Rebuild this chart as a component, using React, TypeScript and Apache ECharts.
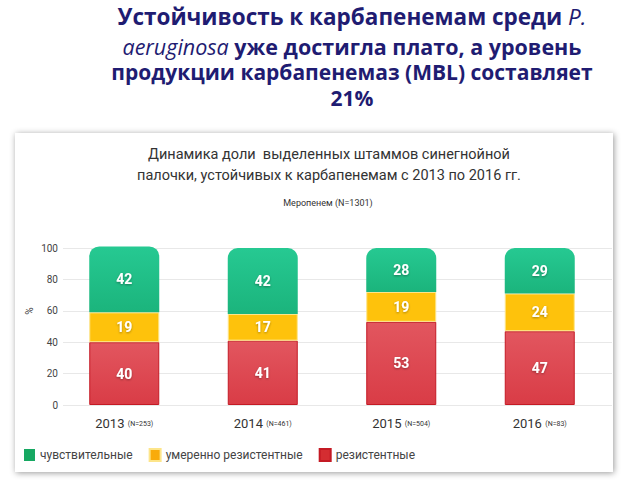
import React, { useEffect, useRef } from "react";
import * as echarts from "echarts";

const categories = ["2013", "2014", "2015", "2016"];
const sampleSizes = ["N=253", "N=461", "N=504", "N=83"];
const resistant = [40, 41, 53, 47];
const intermediate = [19, 17, 19, 24];
const sensitive = [42, 42, 28, 29];
const yTicks = [0, 20, 40, 60, 80, 100];
const seriesNames = ["чувствительные", "умеренно резистентные", "резистентные"];
const headingLines = [
  "Устойчивость к карбапенемам среди {i|P.}",
  "{i|aeruginosa} уже достигла плато, а уровень",
  "продукции карбапенемаз (MBL) составляет",
  "21%",
];

export default function App() {
  const ref = useRef<HTMLDivElement>(null);
  useEffect(() => {
    const chart = echarts.init(ref.current!, null, { renderer: "svg" });
    const labelStyle = {
      show: true,
      position: "inside",
      color: "#ffffff",
      fontFamily: "Roboto",
      fontWeight: "bold",
      fontSize: 14,
      textShadowColor: "rgba(0,0,0,0.35)",
      textShadowBlur: 2,
      textShadowOffsetY: 1,
    };
    const yMin = yTicks[0];
    const yMax = yTicks[yTicks.length - 1];
    const headingSizes = [22.5, 21.5, 21, 21];
    const headingY = [16, 46, 72, 98];
    const heading = headingLines.map((t, k) => ({
      type: "text",
      x: 352,
      y: headingY[k],
      style: {
        text: t,
        fill: "#1f1c72",
        fontFamily: "Open Sans",
        fontWeight: "bold",
        fontSize: headingSizes[k],
        lineHeight: 20,
        align: "center",
        verticalAlign: "middle",
        rich: {
          i: {
            fontFamily: "Open Sans",
            fontStyle: "italic",
            fontWeight: "normal",
            fontSize: headingSizes[k],
            lineHeight: 20,
            fill: "#1f1c72",
            color: "#1f1c72",
          },
        },
      },
    }));
    chart.setOption({
      animation: false,
      backgroundColor: "#ffffff",
      title: [
        {
          text: "Динамика доли  выделенных штаммов синегнойной\nпалочки, устойчивых к карбапенемам с 2013 по 2016 гг.",
          left: 324,
          top: 139,
          textAlign: "center",
          textStyle: {
            fontFamily: "Roboto",
            fontWeight: "normal",
            fontSize: 14.5,
            color: "#333333",
            lineHeight: 21,
          },
        },
        {
          text: "Меропенем (N=1301)",
          left: 323,
          top: 193,
          textAlign: "center",
          textStyle: {
            fontFamily: "Roboto",
            fontWeight: "normal",
            fontSize: 9,
            color: "#333333",
          },
        },
      ],
      graphic: [
        {
          type: "rect",
          z: -10,
          shape: { x: 15, y: 133, width: 598, height: 339 },
          style: {
            fill: "#ffffff",
            shadowBlur: 6,
            shadowColor: "rgba(0,0,0,0.4)",
            shadowOffsetX: 1,
            shadowOffsetY: 1,
          },
        },
        {
          type: "text",
          x: 29,
          y: 311,
          rotation: Math.PI / 2,
          style: {
            text: "%",
            fill: "#444",
            fontFamily: "Roboto",
            fontSize: 10,
            align: "center",
            verticalAlign: "middle",
          },
        },
        ...heading,
      ],
      legend: {
        left: 19,
        top: 443,
        icon: "rect",
        itemWidth: 11,
        itemHeight: 12,
        itemGap: 16,
        textStyle: { fontFamily: "Roboto", fontSize: 12, color: "#444" },
        data: [
          { name: seriesNames[0], itemStyle: { color: "#16a862" } },
          { name: seriesNames[1], itemStyle: { color: "#f9ab0b" } },
          { name: seriesNames[2], itemStyle: { color: "#d42d31" } },
        ],
      },
      grid: [
        { left: 55, right: 31, top: 248, bottom: 75 },
        { left: 63, right: 28, top: 248, bottom: 75 },
      ],
      xAxis: [
        {
          type: "category",
          gridIndex: 0,
          data: categories,
          axisLine: { show: false },
          axisTick: { show: false },
          axisLabel: {
            interval: 0,
            margin: 12,
            formatter: (v: string, i: number) => `{y|${v}} {n|(${sampleSizes[i]})}`,
            rich: {
              y: { fontFamily: "Roboto", fontSize: 13, color: "#333" },
              n: { fontFamily: "Roboto", fontSize: 7, color: "#333" },
            },
          },
        },
        { type: "value", gridIndex: 1, show: false, min: 0, max: 1 },
      ],
      yAxis: [
        {
          type: "value",
          gridIndex: 0,
          min: yMin,
          max: yMax,
          interval: 20,
          axisLine: { show: false },
          axisTick: { show: false },
          axisLabel: { fontFamily: "Roboto", fontSize: 10, color: "#444", margin: -3 },
          splitLine: { show: false },
        },
        {
          type: "value",
          gridIndex: 1,
          min: yMin,
          max: yMax,
          interval: 20,
          axisLine: { show: false },
          axisTick: { show: false },
          axisLabel: { show: false },
          splitLine: { lineStyle: { color: "#e8e8e8" } },
        },
      ],
      series: [
        {
          name: seriesNames[2],
          type: "bar",
          stack: "total",
          barWidth: 70,
          data: resistant,
          itemStyle: {
            color: new echarts.graphic.LinearGradient(0, 0, 0, 1, [
              { offset: 0, color: "#e2565f" },
              { offset: 1, color: "#d93c46" },
            ]),
            borderColor: "#c41a24",
            borderWidth: 1,
          },
          label: labelStyle,
        },
        {
          name: seriesNames[1],
          type: "bar",
          stack: "total",
          barWidth: 70,
          data: intermediate,
          itemStyle: {
            color: "#fec20c",
            borderColor: "#fde58a",
            borderWidth: 1,
          },
          label: labelStyle,
        },
        {
          name: seriesNames[0],
          type: "bar",
          stack: "total",
          barWidth: 70,
          clip: false,
          data: sensitive,
          itemStyle: {
            color: new echarts.graphic.LinearGradient(0, 0, 0, 1, [
              { offset: 0, color: "#26c992" },
              { offset: 1, color: "#1bb47c" },
            ]),
            borderRadius: [10, 10, 0, 0],
          },
          label: labelStyle,
        },
      ],
    });
    return () => chart.dispose();
  }, []);
  return (
    <div
      ref={ref}
      style={{ position: "fixed", left: 0, top: 0, width: 640, height: 480 }}
    />
  );
}
